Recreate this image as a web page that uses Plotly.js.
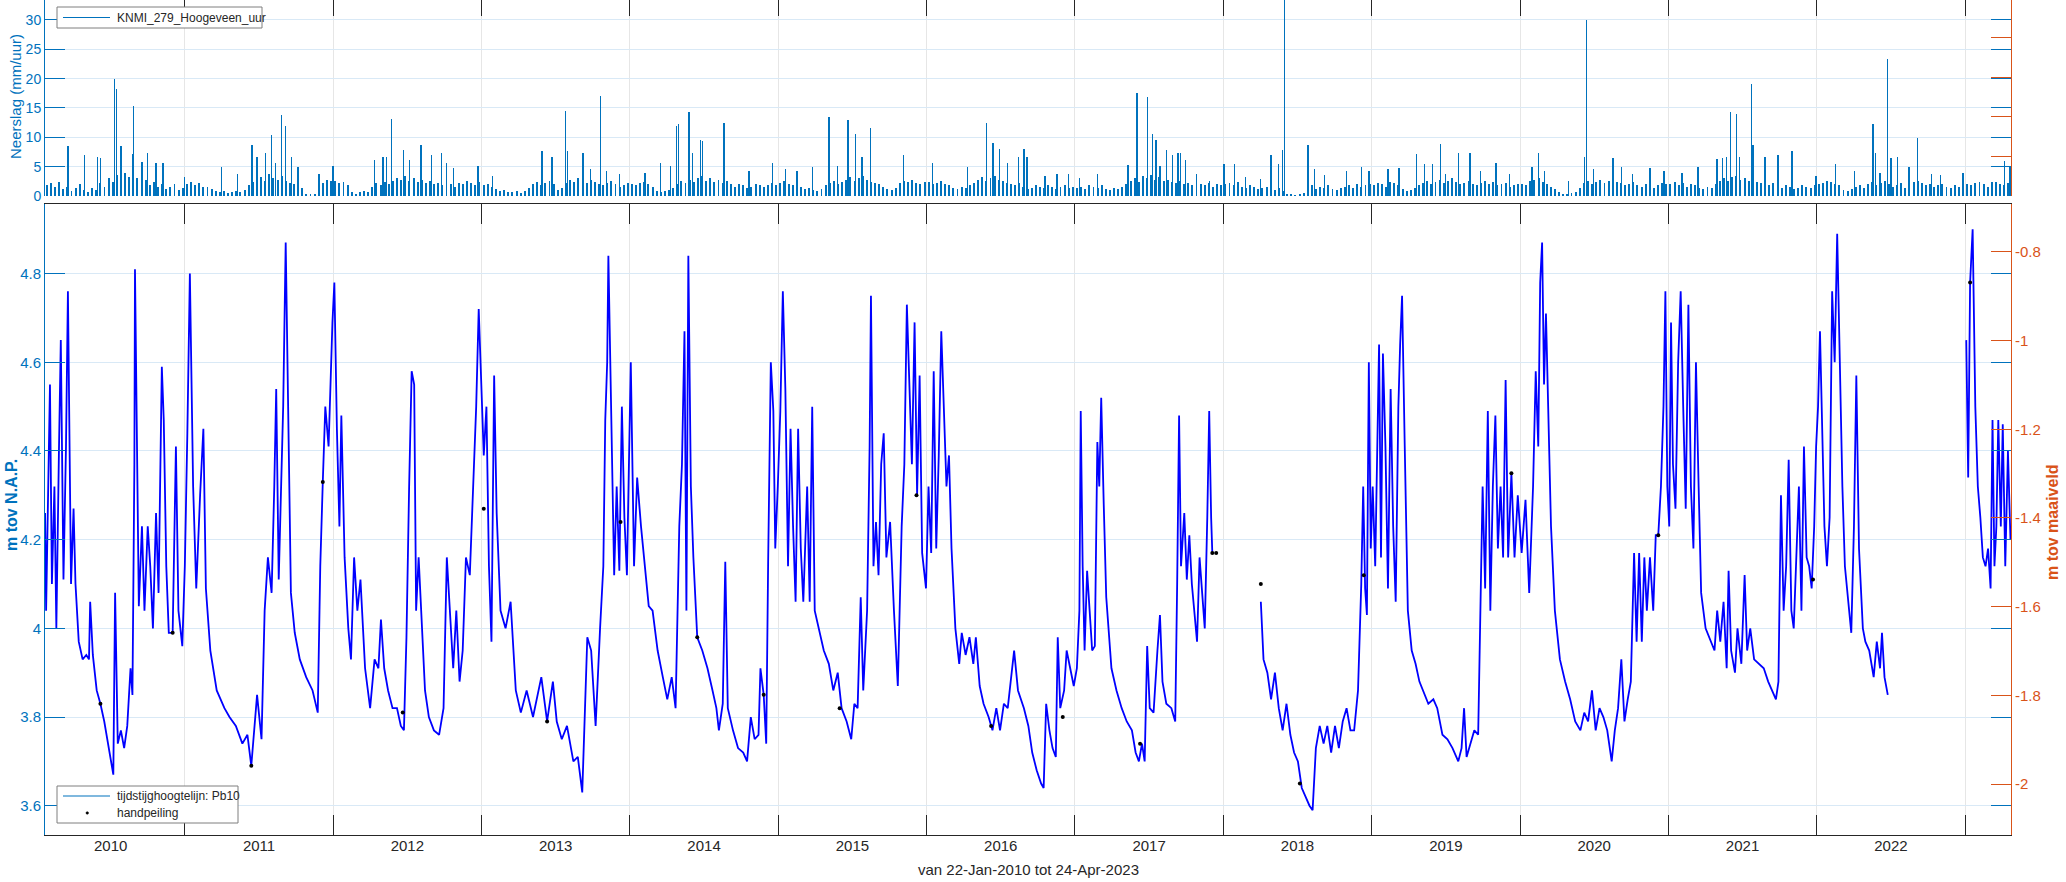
<!DOCTYPE html>
<html><head><meta charset="utf-8">
<script src="https://cdn.plot.ly/plotly-3.0.1.min.js"></script>
<style>html,body{margin:0;padding:0;background:#fff}#chart{width:2066px;height:882px}</style>
</head><body><div id="chart"></div>
<script>
// ---------- axis / tick data ----------
const X_START = 2010.0575;   // 22-Jan-2010
const X_END = 2023.3096;     // 24-Apr-2023
const tickYears = [2011,2012,2013,2014,2015,2016,2017,2018,2019,2020,2021,2022,2023];
const labelYears = [2010,2011,2012,2013,2014,2015,2016,2017,2018,2019,2020,2021,2022];
const levelTicks = [3.6,3.8,4.0,4.2,4.4,4.6,4.8];
const levelTickText = ['3.6','3.8','4','4.2','4.4','4.6','4.8'];
const maaiveldTicks = [-2,-1.8,-1.6,-1.4,-1.2,-1,-0.8];
const maaiveldTickText = ['-2','-1.8','-1.6','-1.4','-1.2','-1','-0.8'];
const rainTicks = [0,5,10,15,20,25,30];

// ---------- groundwater level (m tov NAP) ----------
const gwYearA = [2010.058,2010.065,2010.091,2010.104,2010.121,2010.134,2010.151,2010.164,2010.182,2010.199,
2010.212,2010.233,2010.250,2010.263,2010.285,2010.311,2010.336,2010.354,2010.362,2010.380,
2010.406,2010.431,2010.457,2010.483,2010.518,2010.530,2010.548,2010.569,2010.591,2010.612,
2010.634,2010.647,2010.660,2010.664,2010.681,2010.690,2010.711,2010.728,2010.750,2010.767,
2010.785,2010.806,2010.823,2010.845,2010.858,2010.875,2010.892,2010.918,2010.940,2010.957,
2010.983,2011.000,2011.017,2011.034,2011.056,2011.077,2011.103,2011.125,2011.142,2011.172,
2011.215,2011.267,2011.301,2011.344,2011.388,2011.422,2011.448,2011.474,2011.487,2011.517,
2011.538,2011.560,2011.585,2011.603,2011.616,2011.633,2011.650,2011.663,2011.680,2011.698,
2011.715,2011.741,2011.775,2011.818,2011.861,2011.896,2011.913,2011.930,2011.947,2011.969,
2011.982,2011.995,2012.008,2012.025,2012.042,2012.055,2012.077,2012.102,2012.120,2012.141,
2012.163,2012.184,2012.215,2012.249,2012.279,2012.305,2012.322,2012.344,2012.370,2012.400,
2012.430,2012.456,2012.477,2012.494,2012.512,2012.529,2012.546,2012.559,2012.576,2012.593,
2012.619,2012.645,2012.679,2012.714,2012.744,2012.766,2012.787,2012.809,2012.830,2012.852,
2012.873,2012.895,2012.921,2012.946,2012.964,2012.981,2012.998,2013.015,2013.033,2013.050,
2013.067,2013.085,2013.102,2013.128,2013.162,2013.196,2013.231,2013.265,2013.304,2013.347,
2013.403,2013.442,2013.481,2013.507,2013.541,2013.576,2013.619,2013.649,2013.679];
const gwLevelA = [4.26,4.04,4.55,4.10,4.32,4.00,4.39,4.65,4.11,4.41,
4.76,4.10,4.27,4.10,3.97,3.93,3.94,3.93,4.06,3.94,
3.86,3.83,3.79,3.74,3.67,4.08,3.74,3.77,3.73,3.78,
3.91,3.85,4.37,4.81,4.32,4.05,4.23,4.04,4.23,4.14,
4.00,4.26,4.08,4.59,4.47,4.14,3.99,3.99,4.41,4.04,
3.96,4.14,4.44,4.80,4.32,4.09,4.30,4.45,4.09,3.95,
3.86,3.82,3.80,3.78,3.74,3.76,3.69,3.81,3.85,3.75,
4.04,4.16,4.08,4.32,4.54,4.11,4.32,4.50,4.87,4.41,
4.08,3.99,3.93,3.89,3.86,3.81,4.14,4.33,4.50,4.41,
4.58,4.69,4.78,4.45,4.23,4.48,4.16,4.00,3.93,4.16,
4.04,4.11,3.91,3.82,3.93,3.91,4.02,3.91,3.86,3.82,
3.82,3.78,3.77,3.98,4.32,4.58,4.55,4.04,4.16,4.04,
3.86,3.80,3.77,3.76,3.82,4.16,4.04,3.91,4.04,3.88,
3.95,4.16,4.12,4.32,4.50,4.72,4.57,4.39,4.50,4.14,
3.97,4.57,4.26,4.04,4.00,4.06,3.86,3.81,3.86,3.80,
3.89,3.79,3.88,3.79,3.75,3.78,3.70,3.71,3.63];

const gwYearB = [2013.696,2013.713,2013.739,2013.769,2013.799,2013.821,2013.834,2013.847,2013.855,2013.873,
2013.894,2013.911,2013.929,2013.946,2013.963,2013.980,2014.006,2014.028,2014.049,2014.075,
2014.101,2014.127,2014.153,2014.187,2014.222,2014.252,2014.282,2014.308,2014.333,2014.351,
2014.368,2014.381,2014.394,2014.411,2014.428,2014.454,2014.488,2014.523,2014.557,2014.583,
2014.600,2014.626,2014.643,2014.660,2014.695,2014.729,2014.764,2014.790,2014.815,2014.841,
2014.867,2014.880,2014.902,2014.919,2014.932,2014.950,2014.967,2014.980,2014.997,2015.014,
2015.031,2015.048,2015.066,2015.083,2015.100,2015.117,2015.134,2015.152,2015.169,2015.195,
2015.212,2015.229,2015.246,2015.272,2015.307,2015.341,2015.371,2015.401,2015.427,2015.461,
2015.492,2015.513,2015.535,2015.556,2015.573,2015.599,2015.616,2015.625,2015.642,2015.659,
2015.676,2015.694,2015.711,2015.729,2015.754,2015.780,2015.806,2015.832,2015.850,2015.867,
2015.884,2015.901,2015.919,2015.936,2015.953,2015.970,2015.996,2016.013,2016.031,2016.048,
2016.065,2016.082,2016.099,2016.117,2016.134,2016.151,2016.168,2016.194,2016.220,2016.237,
2016.263,2016.289,2016.315,2016.332,2016.358,2016.384,2016.418,2016.444,2016.470,2016.495,
2016.521,2016.547,2016.573,2016.590,2016.616,2016.656,2016.686,2016.712,2016.742,2016.772,
2016.789,2016.806,2016.828,2016.849,2016.871,2016.884,2016.901,2016.927,2016.944,2016.970,
2016.992,2017.013,2017.030,2017.039,2017.052,2017.065,2017.082,2017.099,2017.116,2017.134,
2017.151,2017.164,2017.177,2017.194,2017.211,2017.246,2017.280,2017.315,2017.349,2017.384,
2017.409,2017.431,2017.452,2017.470,2017.487,2017.504,2017.530,2017.556,2017.573,2017.590,
2017.616,2017.650,2017.676,2017.689,2017.702,2017.715,2017.737,2017.754,2017.771,2017.788,
2017.806,2017.823,2017.840,2017.857,2017.875,2017.892,2017.905,2017.918,2017.926];
const gwLevelB = [3.82,3.98,3.95,3.78,4.00,4.14,4.47,4.60,4.84,4.49,
4.12,4.32,4.13,4.50,4.25,4.12,4.60,4.14,4.34,4.23,
4.14,4.05,4.04,3.95,3.89,3.84,3.89,3.82,4.23,4.37,
4.67,4.04,4.84,4.32,4.16,3.98,3.95,3.91,3.86,3.82,
3.77,3.83,4.15,3.82,3.77,3.73,3.72,3.70,3.80,3.75,
3.76,3.91,3.85,3.74,4.15,4.60,4.49,4.18,4.32,4.49,
4.76,4.54,4.14,4.45,4.23,4.06,4.45,4.18,4.06,4.32,
4.06,4.50,4.04,4.00,3.95,3.92,3.86,3.90,3.82,3.79,
3.75,3.83,3.82,4.07,3.86,4.04,4.41,4.75,4.14,4.24,
4.12,4.37,4.44,4.16,4.24,4.04,3.87,4.23,4.37,4.73,
4.55,4.37,4.69,4.30,4.57,4.17,4.09,4.32,4.17,4.58,
4.18,4.39,4.67,4.50,4.32,4.39,4.18,4.00,3.92,3.99,
3.94,3.98,3.92,3.98,3.87,3.83,3.80,3.77,3.82,3.77,
3.83,3.82,3.90,3.95,3.86,3.82,3.78,3.72,3.68,3.65,
3.64,3.83,3.77,3.73,3.71,3.98,3.82,3.86,3.95,3.91,
3.87,3.91,4.04,4.49,4.14,3.95,4.13,4.04,3.95,3.96,
4.42,4.32,4.52,4.28,4.07,3.91,3.86,3.82,3.79,3.77,
3.72,3.70,3.74,3.70,3.96,3.82,3.81,3.95,4.03,3.88,
3.83,3.82,3.79,4.10,4.48,4.14,4.26,4.11,4.21,4.10,
4.04,3.97,4.16,4.08,4.00,4.25,4.49,4.25,4.17];

const gwYearC = [2018.253,2018.271,2018.297,2018.322,2018.348,2018.374,2018.400,2018.426,2018.452,2018.477,
2018.503,2018.529,2018.555,2018.581,2018.602,2018.624,2018.650,2018.676,2018.701,2018.727,
2018.753,2018.779,2018.805,2018.831,2018.857,2018.882,2018.908,2018.930,2018.943,2018.956,
2018.968,2018.981,2018.994,2019.007,2019.024,2019.037,2019.050,2019.063,2019.076,2019.093,
2019.110,2019.128,2019.145,2019.162,2019.180,2019.192,2019.205,2019.223,2019.244,2019.270,
2019.296,2019.322,2019.347,2019.382,2019.416,2019.442,2019.477,2019.511,2019.545,2019.584,
2019.606,2019.623,2019.640,2019.666,2019.692,2019.718,2019.735,2019.748,2019.765,2019.783,
2019.800,2019.817,2019.834,2019.851,2019.869,2019.886,2019.903,2019.920,2019.942,2019.963,
2019.985,2020.011,2020.037,2020.062,2020.088,2020.106,2020.123,2020.136,2020.149,2020.162,
2020.175,2020.192,2020.209,2020.235,2020.269,2020.304,2020.338,2020.372,2020.407,2020.433,
2020.459,2020.485,2020.510,2020.536,2020.562,2020.588,2020.618,2020.639,2020.661,2020.683,
2020.704,2020.726,2020.747,2020.769,2020.786,2020.803,2020.821,2020.838,2020.855,2020.876,
2020.898,2020.915,2020.932,2020.950,2020.967,2020.980,2020.993,2021.006,2021.018,2021.031,
2021.048,2021.066,2021.083,2021.100,2021.117,2021.135,2021.152,2021.169,2021.186,2021.204,
2021.221,2021.251,2021.286,2021.311,2021.329,2021.350,2021.372,2021.393,2021.406,2021.423,
2021.449,2021.466,2021.492,2021.514,2021.531,2021.552,2021.578,2021.609,2021.643,2021.673,
2021.699,2021.725,2021.742,2021.759,2021.777,2021.794,2021.811,2021.829,2021.845,2021.863,
2021.880,2021.897,2021.914,2021.932,2021.949,2021.966,2021.983,2021.996,2022.009,2022.022,
2022.035,2022.052,2022.069,2022.087,2022.104,2022.121,2022.138,2022.156,2022.173,2022.190,
2022.216,2022.233,2022.251,2022.267,2022.285,2022.311,2022.328,2022.354,2022.384,2022.405,
2022.427,2022.440,2022.457,2022.479];
const gwLevelC = [4.06,3.93,3.90,3.84,3.90,3.82,3.77,3.83,3.76,3.72,
3.70,3.64,3.62,3.60,3.59,3.73,3.78,3.74,3.78,3.72,
3.78,3.73,3.79,3.82,3.77,3.77,3.86,4.10,4.32,4.09,
4.03,4.60,4.18,4.32,4.14,4.38,4.64,4.16,4.62,4.41,
4.09,4.54,4.23,4.06,4.50,4.64,4.75,4.41,4.04,3.95,
3.92,3.88,3.86,3.83,3.84,3.82,3.76,3.75,3.73,3.70,
3.73,3.82,3.71,3.74,3.77,3.76,4.04,4.32,4.09,4.49,
4.04,4.32,4.48,4.18,4.32,4.16,4.56,4.16,4.35,4.16,
4.30,4.17,4.29,4.08,4.32,4.58,4.41,4.78,4.87,4.55,
4.71,4.45,4.23,4.04,3.93,3.88,3.84,3.79,3.77,3.81,
3.79,3.86,3.77,3.82,3.80,3.77,3.70,3.77,3.82,3.93,
3.79,3.84,3.88,4.17,3.97,4.17,3.97,4.16,4.04,4.16,
4.04,4.21,4.21,4.32,4.50,4.76,4.32,4.23,4.69,4.37,
4.27,4.60,4.76,4.50,4.27,4.73,4.32,4.18,4.60,4.32,
4.08,4.00,3.97,3.95,4.04,3.97,4.06,3.91,4.13,3.95,
3.90,4.00,3.92,4.12,3.95,4.00,3.93,3.92,3.91,3.88,
3.86,3.84,3.88,4.30,4.04,4.14,4.38,4.04,4.00,4.17,
4.32,4.04,4.41,4.16,4.14,4.09,4.23,4.41,4.50,4.67,
4.45,4.23,4.14,4.25,4.76,4.60,4.89,4.55,4.32,4.14,
4.04,3.99,4.23,4.57,4.18,4.00,3.97,3.95,3.89,3.97,
3.91,3.99,3.89,3.85];

const gwYearD = [2023.008,2023.021,2023.034,2023.051,2023.069,2023.086,2023.103,2023.120,2023.138,2023.155,
2023.172,2023.185,2023.198,2023.211,2023.224,2023.241,2023.254,2023.271,2023.289,2023.306];
const gwLevelD = [4.65,4.34,4.78,4.90,4.50,4.32,4.25,4.16,4.14,4.18,
4.09,4.47,4.14,4.23,4.47,4.23,4.46,4.14,4.40,4.20];

// ---------- hand measurements ----------
const hpYear = [2010.431,2010.918,2011.448,2011.930,2012.469,2013.015,2013.442,2013.937,2014.454,2014.902,
2015.414,2015.932,2016.435,2016.918,2017.439,2017.926,2017.952,2018.253,2018.516,2018.947,
2019.942,2020.932,2021.975,2023.034];
const hpLevel = [3.83,3.99,3.69,4.33,3.81,4.27,3.79,4.24,3.98,3.85,
3.82,4.30,3.78,3.80,3.74,4.17,4.17,4.10,3.65,4.12,
4.35,4.21,4.11,4.78];

// ---------- precipitation (mm/uur): the tall showers ----------
const rainPeakYear = [2010.212,2010.323,2010.410,2010.431,2010.526,2010.539,2010.569,2010.646,2010.655,2010.711,
2010.750,2010.806,2010.853,2011.000,2011.245,2011.357,2011.452,2011.486,2011.542,2011.585,
2011.611,2011.650,2011.680,2011.719,2011.762,2011.904,2011.999,2012.279,2012.335,2012.361,
2012.391,2012.473,2012.516,2012.593,2012.662,2012.731,2012.766,2012.813,2012.977,2013.076,
2013.407,2013.476,2013.567,2013.580,2013.683,2013.735,2013.804,2013.842,2013.929,2014.101,
2014.208,2014.273,2014.316,2014.329,2014.398,2014.424,2014.475,2014.488,2014.635,2014.803,
2014.962,2015.048,2015.126,2015.229,2015.341,2015.401,2015.470,2015.522,2015.565,2015.621,
2015.845,2016.039,2016.276,2016.405,2016.448,2016.491,2016.547,2016.620,
2016.656,2016.677,2016.798,2016.880,2016.957,2017.030,2017.151,2017.358,2017.418,2017.487,
2017.521,2017.547,2017.573,2017.616,2017.659,2017.694,2017.711,2017.745,2017.818,2017.905,
2018.004,2018.077,2018.150,2018.249,2018.322,2018.370,2018.400,2018.413,2018.572,2018.615,
2018.680,2018.831,2018.930,2018.981,2019.111,2019.184,2019.304,2019.356,2019.412,2019.464,
2019.498,2019.584,2019.662,2019.735,2019.838,2019.929,2020.080,2020.123,2020.166,2020.325,
2020.433,2020.446,2020.497,2020.627,2020.683,2020.760,2020.876,2020.971,2021.092,2021.199,
2021.328,2021.363,2021.393,2021.419,2021.458,2021.479,2021.561,2021.570,2021.652,2021.738,
2021.833,2021.996,2022.125,2022.255,2022.380,2022.397,2022.427,2022.479,2022.500,2022.543,
2022.621,2022.681,2022.772,2022.836,2022.987,2023.095,2023.181,2023.267,2023.302];
const rainPeakMm = [8.6,7.0,6.6,6.5,20.0,18.3,8.6,7.1,15.3,5.8,
7.3,5.7,5.6,3.3,4.9,3.7,8.7,6.6,7.3,10.4,
5.7,13.8,12.0,6.6,5.0,3.7,5.1,6.2,6.7,6.6,
13.1,7.9,6.1,8.7,7.0,7.4,5.7,4.7,5.1,3.4,
7.7,6.7,14.4,7.7,7.3,4.6,17.1,4.3,3.7,4.0,
5.7,5.1,12.0,12.3,14.3,7.4,9.5,9.4,12.5,4.3,
5.7,4.6,4.3,5.0,13.4,5.1,13.0,10.5,6.6,11.6,
7.0,5.7,4.9,12.4,9.0,8.0,5.7,6.7,
8.0,6.6,3.4,3.7,3.7,3.1,3.7,5.3,17.6,16.9,
10.6,9.6,5.1,7.9,6.9,7.4,7.3,6.2,3.7,2.6,
5.5,5.4,3.3,2.9,7.0,5.4,7.8,36.0,8.7,4.6,
3.6,4.2,5.0,4.3,4.6,4.7,7.1,5.5,5.5,8.9,
3.8,7.4,7.4,4.3,5.6,3.7,4.9,7.3,4.3,2.6,
6.7,30.0,4.6,6.5,5.0,3.7,4.7,4.2,4.0,5.0,
6.3,6.5,6.6,14.3,14.0,6.6,19.1,8.7,6.7,6.9,
7.6,3.4,5.4,4.3,12.3,7.3,4.0,23.3,6.5,6.7,
5.0,9.8,3.7,3.6,4.0,2.3,2.3,6.0,4.9];

// ---------- precipitation: everyday shower level, one value per 10-day period ----------
const bg2010 = [1.8,2.2,1.5,2.4,1.2,1.6,0.8,1.4,2.0,1.1,0.6,1.3,1.0,2.2,1.6,3.0,2.4,3.5,2.8,4.0,3.2,2.5,3.0,2.2,2.8,1.9,2.4,1.6,2.0,1.2,1.5,2.0,1.0,1.3];
const bg2011 = [2.0,2.4,1.8,2.2,1.5,1.6,1.2,0.9,0.6,0.8,0.5,0.7,0.9,0.6,1.0,1.8,2.4,2.8,3.2,2.6,3.8,3.0,2.8,3.4,2.6,2.2,2.0,1.8,1.4,0.4,0.3,0.3,1.2,2.2,2.8,2.5];
const bg2012 = [2.6,2.2,2.4,1.8,0.6,0.4,0.7,0.9,0.6,1.6,2.2,1.8,2.4,2.0,2.6,3.0,2.8,3.4,2.6,3.0,2.4,2.8,2.2,2.6,2.0,2.2,1.8,2.4,2.0,1.6,2.2,2.0,2.6,2.2,1.8,2.4];
const bg2013 = [1.8,2.0,1.5,1.2,0.9,1.0,0.7,0.6,0.8,0.5,0.9,1.4,2.0,2.4,1.8,2.2,2.6,2.0,1.0,1.4,2.2,2.8,2.4,3.0,2.6,2.2,2.8,2.4,2.0,1.8,2.2,2.6,2.0,1.6,1.8,2.2];
const bg2014 = [2.0,1.8,2.2,2.4,2.0,1.6,0.8,0.6,0.9,1.0,1.4,2.0,2.6,2.2,2.8,2.4,3.0,3.4,2.6,3.0,2.4,2.8,2.2,2.6,2.0,1.6,2.0,1.8,1.4,1.6,2.0,1.8,1.5,1.9,2.2,1.8];
const bg2015 = [2.2,2.6,2.0,1.8,1.4,1.6,1.2,1.4,1.0,0.8,1.2,1.8,2.2,2.6,2.0,2.4,2.8,3.2,2.6,3.0,3.4,2.8,2.4,2.2,2.0,1.6,1.2,1.0,1.4,2.2,2.6,2.4,2.8,2.2,2.0,2.4];
const bg2016 = [2.4,2.0,2.2,2.6,2.0,1.8,1.4,1.2,1.6,1.4,1.8,2.2,2.8,3.2,2.6,3.0,3.4,2.8,2.6,2.2,2.0,1.8,2.2,1.6,1.2,1.4,1.8,1.6,1.4,1.8,1.5,1.2,1.6,1.8,1.4,1.6];
const bg2017 = [1.4,1.6,1.2,1.8,1.6,1.4,1.8,1.2,1.0,1.4,1.2,1.6,2.0,2.6,3.0,2.4,3.4,3.0,3.6,2.8,3.2,2.6,2.8,2.4,2.2,2.6,2.0,2.2,1.8,2.4,2.0,1.8,2.2,1.6,2.0,1.8];
const bg2018 = [2.0,2.2,1.8,2.4,1.6,1.4,1.8,1.6,1.2,1.4,1.6,1.2,1.0,1.4,0.8,0.4,0.3,0.2,0.3,0.5,1.4,1.8,1.2,1.6,1.4,1.8,1.2,1.0,1.4,1.6,1.8,1.4,2.0,1.6,1.8,2.0];
const bg2019 = [1.8,2.2,2.0,1.6,2.4,2.2,1.8,1.2,0.8,1.0,1.4,1.8,2.2,2.6,2.0,2.4,2.8,2.2,2.6,3.0,2.4,2.0,2.2,2.6,2.0,1.8,2.2,2.6,2.0,2.4,1.8,2.0,2.2,1.6,1.8,2.0];
const bg2020 = [2.0,1.8,2.6,2.8,3.0,2.4,2.0,1.6,1.2,0.6,0.4,0.3,0.5,0.6,1.4,2.2,2.6,2.0,2.4,2.8,2.2,2.6,2.0,2.4,2.2,1.8,2.0,2.4,1.8,1.6,2.0,1.8,1.4,1.8,2.2,2.0];
const bg2021 = [2.0,2.4,1.8,2.2,1.6,2.0,1.8,1.4,1.2,1.6,1.4,2.0,2.6,3.0,2.6,3.2,3.4,2.8,3.0,2.6,2.8,2.4,2.2,2.0,1.8,2.2,1.6,1.4,1.8,1.6,1.2,1.4,1.8,1.6,1.4,1.8];
const bg2022 = [2.0,2.2,2.6,2.4,2.0,1.8,1.0,0.8,1.2,1.6,1.8,1.4,2.0,2.4,1.8,2.2,2.6,2.0,1.6,1.8,2.2,1.4,2.0,2.4,2.6,2.2,1.8,2.0,1.6,1.8,2.0,1.6,1.4,1.8,1.6,2.0];
const bg2023 = [2.0,1.8,2.2,2.4,2.0,1.6,2.2,2.4,2.0,1.8,2.2];

// ---------- build traces ----------
const BLUE = '#0072BD', ORANGE = '#D95319', DARK = '#262626';
const bgYears = [[2010,bg2010,2],[2011,bg2011,0],[2012,bg2012,0],[2013,bg2013,0],[2014,bg2014,0],[2015,bg2015,0],
  [2016,bg2016,0],[2017,bg2017,0],[2018,bg2018,0],[2019,bg2019,0],[2020,bg2020,0],[2021,bg2021,0],[2022,bg2022,0],[2023,bg2023,0]];
const bgX = [], bgY = [];
bgYears.forEach(([yr, arr, k0]) => arr.forEach((v, i) => { bgX.push(yr + (k0 + i + 0.5) / 36); bgY.push(v); }));

const gwX = [].concat(gwYearA, gwYearB, [null], gwYearC, [null], gwYearD);
const gwY = [].concat(gwLevelA, gwLevelB, [null], gwLevelC, [null], gwLevelD);

const traces = [
  {type:'bar', x:bgX, y:bgY, width:0.013, marker:{color:BLUE, line:{width:0}}, xaxis:'x2', yaxis:'y2', showlegend:false, hoverinfo:'skip'},
  {type:'bar', x:rainPeakYear, y:rainPeakMm, width:0.009, marker:{color:BLUE, line:{width:0}}, xaxis:'x2', yaxis:'y2', showlegend:false},
  {type:'scatter', mode:'lines', x:gwX, y:gwY, connectgaps:false, line:{color:'#0000FF', width:1.8}, xaxis:'x', yaxis:'y', showlegend:false},
  {type:'scatter', mode:'markers', x:hpYear, y:hpLevel, marker:{color:'#000', size:4}, xaxis:'x', yaxis:'y', showlegend:false},
  // empty traces so that the overlaid label / right axes get drawn
  {type:'scatter', mode:'lines', x:[null], y:[null], xaxis:'x3', yaxis:'y4', showlegend:false, hoverinfo:'skip'},
  {type:'scatter', mode:'lines', x:[null], y:[null], xaxis:'x2', yaxis:'y3', showlegend:false, hoverinfo:'skip'}
];

// ---------- legend boxes (paper coordinates of the plot area) ----------
const P = (px) => (px - 45) / 1966;        // px -> paper x
const Q = (py) => (835 - py) / 835;        // px -> paper y
const shapes = [
  {type:'rect', xref:'paper', yref:'paper', x0:P(57), x1:P(262), y0:Q(28), y1:Q(7), fillcolor:'#fff', line:{color:'#7f7f7f', width:1}, layer:'above'},
  {type:'line', xref:'paper', yref:'paper', x0:P(63), x1:P(110), y0:Q(17.5), y1:Q(17.5), line:{color:BLUE, width:1}, layer:'above'},
  {type:'rect', xref:'paper', yref:'paper', x0:P(57), x1:P(238), y0:Q(823), y1:Q(786), fillcolor:'#fff', line:{color:'#7f7f7f', width:1}, layer:'above'},
  {type:'line', xref:'paper', yref:'paper', x0:P(63), x1:P(110), y0:Q(796), y1:Q(796), line:{color:BLUE, width:1.2}, layer:'above'},
  {type:'circle', xref:'paper', yref:'paper', x0:P(86), x1:P(88.5), y0:Q(814.2), y1:Q(811.7), fillcolor:'#000', line:{color:'#000', width:0.5}, layer:'above'}
];

const FONT = 'Liberation Sans, Arial, Helvetica, sans-serif';
const layout = {
  width:2066, height:882,
  margin:{l:45, r:55, t:0, b:47},
  paper_bgcolor:'#fff', plot_bgcolor:'rgba(0,0,0,0)',
  font:{family:FONT, size:15, color:DARK},
  barmode:'overlay', bargap:0, showlegend:false,
  xaxis:{domain:[0,1], anchor:'y', range:[X_START, X_END], tickmode:'array', tickvals:tickYears, showticklabels:false,
    ticks:'inside', ticklen:20, tickwidth:1, tickcolor:DARK, showline:true, linecolor:DARK, linewidth:1, mirror:'ticks',
    showgrid:true, gridcolor:'#e6e6e6', gridwidth:1, zeroline:false},
  xaxis3:{overlaying:'x', anchor:'y', side:'bottom', range:[X_START, X_END], tickmode:'array',
    tickvals:labelYears.map(y => y + 0.5), ticktext:labelYears.map(String), ticks:'', showline:false, showgrid:false,
    zeroline:false, tickfont:{size:15, color:DARK}},
  xaxis2:{domain:[0,1], anchor:'y2', side:'top', range:[X_START, X_END], tickmode:'array', tickvals:tickYears, showticklabels:false,
    ticks:'inside', ticklen:16, tickcolor:DARK, showline:true, linecolor:DARK, showgrid:true, gridcolor:'#e6e6e6', zeroline:false},
  yaxis:{domain:[0, 0.7557], anchor:'x', range:[3.534, 4.957], tickmode:'array', tickvals:levelTicks, ticktext:levelTickText,
    ticks:'inside', ticklen:20, tickcolor:BLUE, tickfont:{size:15, color:BLUE}, showline:true, linecolor:BLUE, mirror:'ticks',
    showgrid:true, gridcolor:'#d9e9f6', zeroline:false},
  yaxis4:{overlaying:'y', anchor:'x', side:'right', range:[3.534-5.649, 4.957-5.649], tickmode:'array', tickvals:maaiveldTicks,
    ticktext:maaiveldTickText, ticks:'inside', ticklen:20, tickcolor:ORANGE, tickfont:{size:15, color:ORANGE},
    showline:true, linecolor:ORANGE, showgrid:false, zeroline:false},
  yaxis2:{domain:[0.7653, 1], anchor:'x2', range:[0, 33.4], tickmode:'array', tickvals:rainTicks,
    ticks:'inside', ticklen:20, tickcolor:BLUE, tickfont:{size:14, color:BLUE}, showline:true, linecolor:BLUE, mirror:'ticks',
    showgrid:true, gridcolor:'#d9e9f6', zeroline:false},
  yaxis3:{overlaying:'y2', anchor:'x2', side:'right', range:[0, 4.96], tickmode:'array', tickvals:[1,2,3,4], showticklabels:false,
    ticks:'inside', ticklen:20, tickcolor:ORANGE, showline:true, linecolor:ORANGE, showgrid:false, zeroline:false},
  shapes: shapes,
  annotations:[
    {text:'KNMI_279_Hoogeveen_uur', xref:'paper', yref:'paper', x:P(115), y:Q(17.5), xanchor:'left', yanchor:'middle',
      showarrow:false, font:{size:12, color:DARK}},
    {text:'tijdstijghoogtelijn: Pb10', xref:'paper', yref:'paper', x:P(115), y:Q(796), xanchor:'left', yanchor:'middle',
      showarrow:false, font:{size:12, color:DARK}},
    {text:'handpeiling', xref:'paper', yref:'paper', x:P(115), y:Q(813), xanchor:'left', yanchor:'middle',
      showarrow:false, font:{size:12, color:DARK}},
    {text:'Neerslag (mm/uur)', xref:'paper', yref:'paper', x:P(16), y:Q(97), xanchor:'center', yanchor:'middle',
      textangle:-90, showarrow:false, font:{size:15, color:BLUE}},
    {text:'<b>m tov N.A.P.</b>', xref:'paper', yref:'paper', x:P(11), y:Q(505), xanchor:'center', yanchor:'middle',
      textangle:-90, showarrow:false, font:{size:16, color:BLUE}},
    {text:'<b>m tov maaiveld</b>', xref:'paper', yref:'paper', x:P(2052), y:Q(522), xanchor:'center', yanchor:'middle',
      textangle:-90, showarrow:false, font:{size:16, color:ORANGE}},
    {text:'van 22-Jan-2010 tot 24-Apr-2023', xref:'paper', yref:'paper', x:0.5, y:Q(869), xanchor:'center', yanchor:'middle',
      showarrow:false, font:{size:15, color:DARK}}
  ]
};

Plotly.newPlot('chart', traces, layout, {staticPlot:true, displayModeBar:false});
</script>
</body></html>
